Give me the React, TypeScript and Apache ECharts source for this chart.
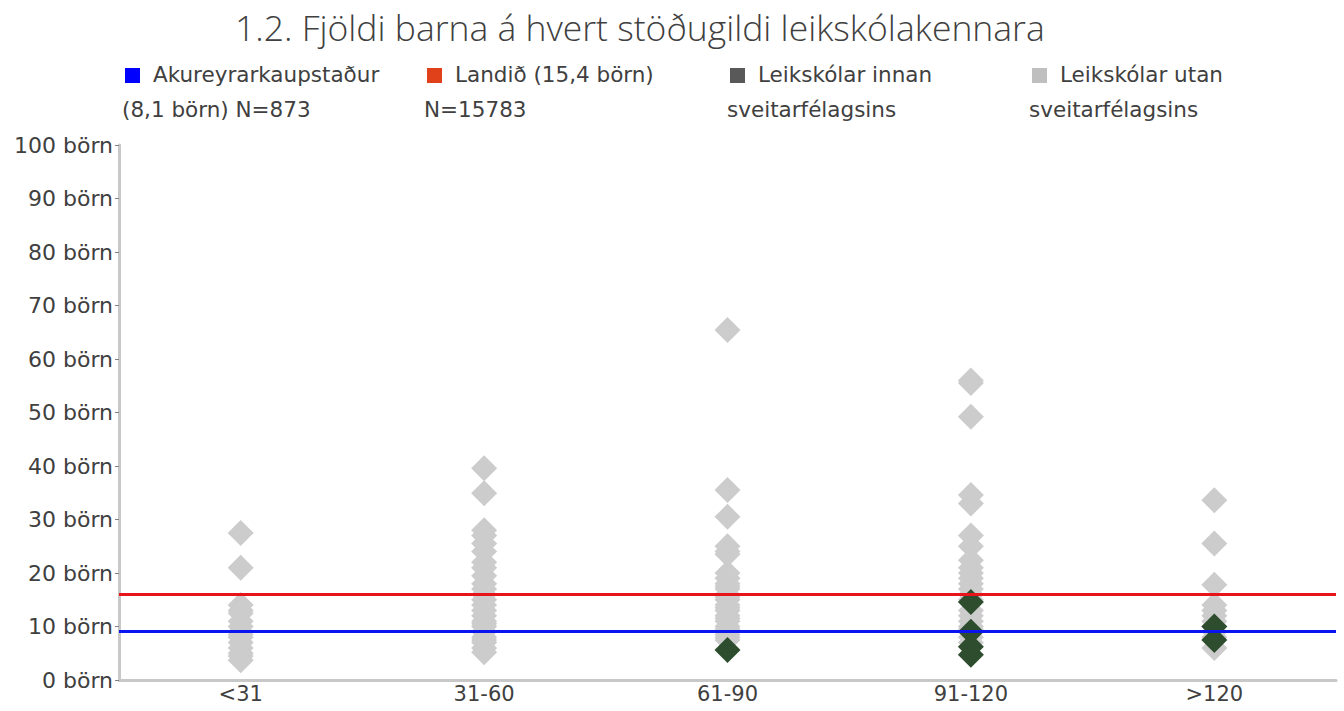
import React, { useEffect, useRef } from "react";
import * as echarts from "echarts";

const categories = ["<31", "31-60", "61-90", "91-120", ">120"];
const yTicks = [0, 10, 20, 30, 40, 50, 60, 70, 80, 90, 100];

// Leikskólar utan sveitarfélagsins (light grey)
const outside0 = [27.5, 21, 14, 13, 12.5, 11, 10, 9, 8.5, 8, 7, 6, 5, 4.5, 3.7];
const outside1 = [39.6, 34.9, 28, 27, 25.5, 24, 22, 21, 19.5, 18, 17, 16, 15, 14, 13, 12, 11, 10.5, 10, 9, 8, 7.5, 7, 6, 5.2];
const outside2 = [65.4, 35.5, 30.5, 25, 24, 23.5, 20, 19, 18, 17.5, 17, 16, 15.5, 15, 14, 13.5, 13, 12, 11.5, 11, 10, 9.5, 9, 8.5, 8, 7.5];
const outside3 = [56, 55.5, 49.2, 34.6, 33, 27, 25, 22.4, 21, 20, 19, 18, 17, 16, 15, 13, 12, 11, 10, 9.5, 8, 7];
const outside4 = [33.6, 25.5, 17.8, 14, 13, 12, 11, 10, 9, 8, 6];
// Leikskólar innan sveitarfélagsins (dark green)
const inside2 = [5.6];
const inside3 = [14.6, 9, 6.2, 4.7];
const inside4 = [10, 7.5];

const akureyriLine = 9.2;
const landidLine = 16.1;

const legendItems = [
  { color: "#0000FF", l1: "Akureyrarkaupstaður", l2: "(8,1 börn) N=873" },
  { color: "#E0401A", l1: "Landið (15,4 börn)", l2: "N=15783" },
  { color: "#595959", l1: "Leikskólar innan", l2: "sveitarfélagsins" },
  { color: "#BFBFBF", l1: "Leikskólar utan", l2: "sveitarfélagsins" },
];

function toPoints(lists: number[][]) {
  const out: [number, number][] = [];
  lists.forEach((arr, i) => arr.forEach((v) => out.push([i, v])));
  return out;
}

export default function App() {
  const ref = useRef<HTMLDivElement>(null);
  useEffect(() => {
    document.body.style.margin = "0";
    const chart = echarts.init(ref.current!, undefined, { renderer: "svg" });
    const font = "DejaVu Sans";
    const legendX = [125, 427, 730, 1032];
    const graphics: any[] = [];
    legendItems.forEach((it, i) => {
      graphics.push({
        type: "rect",
        left: legendX[i],
        top: 68,
        shape: { width: 15, height: 15 },
        style: { fill: it.color },
      });
      graphics.push({
        type: "text",
        left: legendX[i] + 28,
        top: 63,
        style: { text: it.l1, fontSize: 21.5, fontFamily: font, fill: "#404040" },
      });
      graphics.push({
        type: "text",
        left: legendX[i] - 3,
        top: 98,
        style: { text: it.l2, fontSize: 21.5, fontFamily: font, fill: "#404040" },
      });
    });
    chart.setOption({
      animation: false,
      title: {
        text: "1.2. Fjöldi barna á hvert stöðugildi leikskólakennara",
        left: 230,
        top: 4,
        textStyle: { fontSize: 35.5, fontWeight: 300, fontFamily: "Open Sans", color: "#404040" },
      },
      graphic: graphics,
      grid: { left: 119, right: 8, top: 145, bottom: 31, containLabel: false },
      xAxis: {
        type: "category",
        data: categories,
        boundaryGap: true,
        axisLine: { lineStyle: { color: "#C8C8C8", width: 3 } },
        axisTick: { show: false },
        axisLabel: { fontSize: 21, fontFamily: font, color: "#404040", margin: 3 },
        splitLine: { show: false },
      },
      yAxis: {
        type: "value",
        min: 0,
        max: 100,
        interval: 10,
        axisLine: { show: true, lineStyle: { color: "#C8C8C8", width: 3 } },
        axisTick: { show: true, length: 4, lineStyle: { color: "#808080", width: 1 } },
        axisLabel: {
          fontSize: 22,
          fontFamily: font,
          color: "#404040",
          margin: 6,
          formatter: (v: number) => (yTicks.includes(v) ? `${v} börn` : ""),
        },
        splitLine: { show: false },
      },
      series: [
        {
          type: "line",
          data: [],
          z: 1,
          markLine: {
            silent: true,
            symbol: "none",
            label: { show: false },
            data: [
              { yAxis: landidLine, lineStyle: { color: "#E8141C", width: 3, type: "solid" } },
              { yAxis: akureyriLine, lineStyle: { color: "#0A14F0", width: 3, type: "solid" } },
            ],
          },
        },
        {
          type: "scatter",
          name: "Leikskólar utan sveitarfélagsins",
          symbol: "diamond",
          symbolSize: 26,
          z: 3,
          itemStyle: { color: "#CCCCCC", opacity: 1 },
          data: toPoints([outside0, outside1, outside2, outside3, outside4]),
        },
        {
          type: "scatter",
          name: "Leikskólar innan sveitarfélagsins",
          symbol: "diamond",
          symbolSize: 26,
          z: 4,
          itemStyle: { color: "#2E4D2E", opacity: 1 },
          data: toPoints([[], [], inside2, inside3, inside4]),
        },
      ],
    });
    return () => chart.dispose();
  }, []);
  return <div ref={ref} style={{ width: 1344, height: 711 }} />;
}
